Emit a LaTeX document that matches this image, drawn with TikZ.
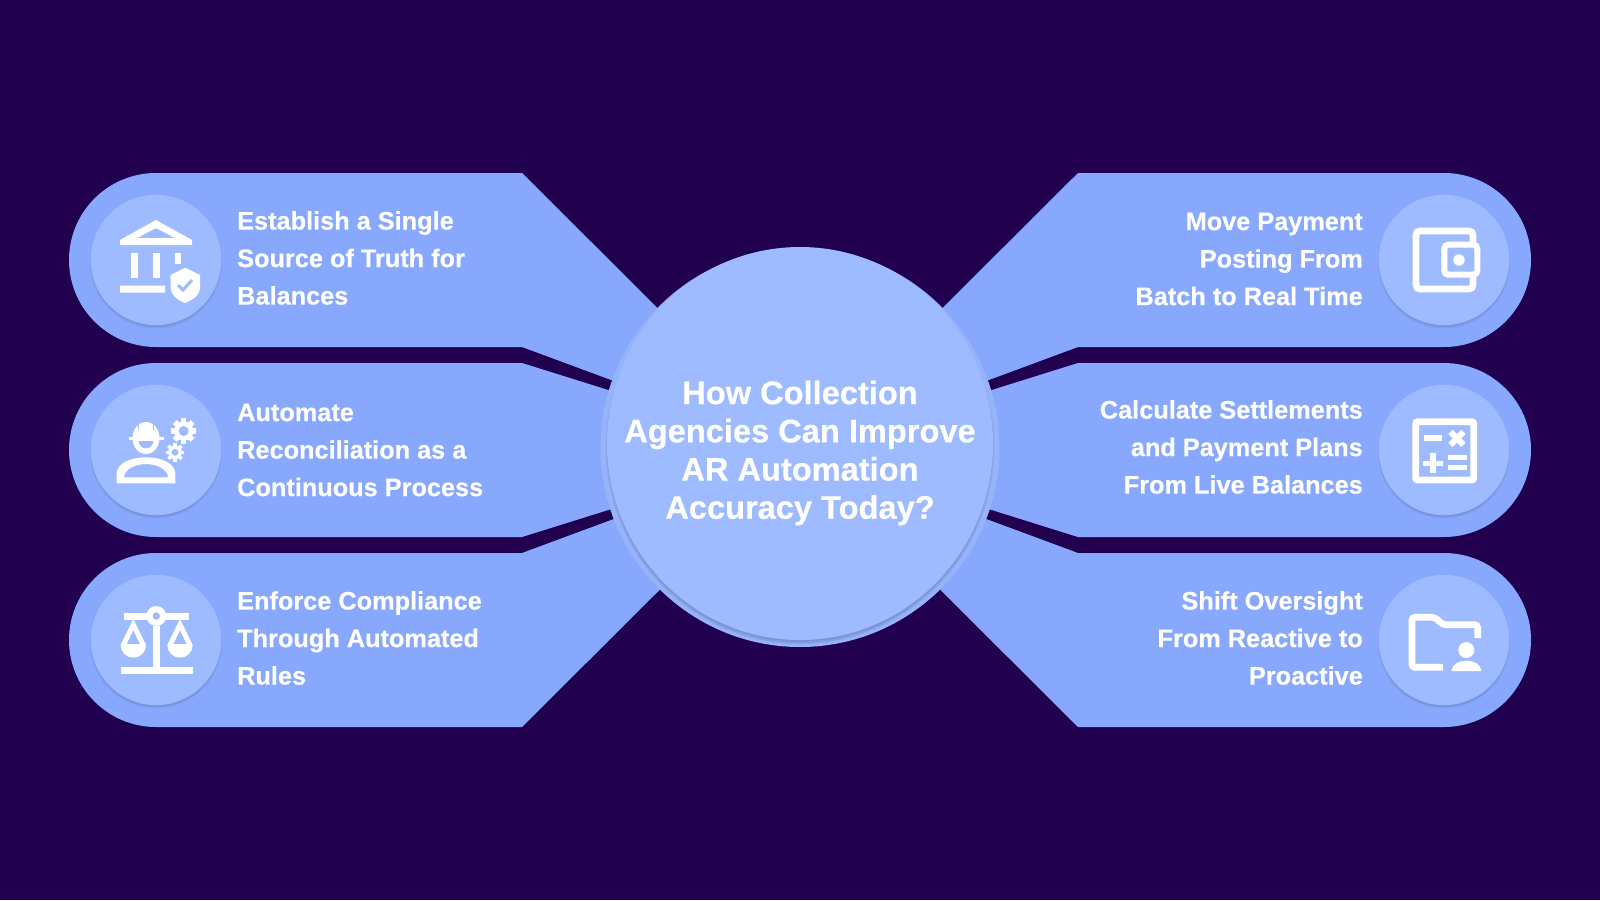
\documentclass[tikz,border=0pt]{standalone}
\usepackage{fontspec}
\setmainfont[BoldFeatures={FakeBold=0.35}]{Liberation Sans}
\usetikzlibrary{calc}

\definecolor{bgcol}{HTML}{20004F}
\definecolor{pillcol}{HTML}{88A8FD}
\definecolor{disccol}{HTML}{9FBBFF}
\definecolor{ringcol}{HTML}{97B3FB}
\definecolor{shadecol}{HTML}{4A5A90}

\tikzset{
  itemleft/.style={anchor=west, align=left, inner sep=0pt, text=white, font=\fontsize{25.3}{37.5}\selectfont\bfseries},
  itemright/.style={anchor=east, align=right, inner sep=0pt, text=white, font=\fontsize{25.3}{37.5}\selectfont\bfseries},
  centerlabel/.style={align=center, inner sep=0pt, text=white, font=\fontsize{32.6}{38.2}\selectfont\bfseries},
  icon/.style={draw=white, line width=6.7pt},
  hole/.style={fill=disccol},
  gear/.pic={
    \fill[white] (0,0) circle (9.5);
    \foreach \a in {0,45,...,315}
      \draw[white, line width=5.5pt] (0,0) -- (\a:12.7);
    \fill[hole] (0,0) circle (5);
  },
  smallgear/.pic={
    \fill[white] (0,0) circle (6.8);
    \foreach \a in {0,45,...,315}
      \draw[white, line width=3.6pt] (0,0) -- (\a:9.2);
    \fill[hole] (0,0) circle (3.4);
  },
  bankicon/.pic={
    % Roof
    \fill[white, even odd rule] (0,-40) -- (-36,-20) -- (-36,-15) -- (36,-15) -- (36,-20) -- cycle
      (0,-32) -- (-19,-22) -- (19,-22) -- cycle;
    % Columns and base
    \fill[white] (-25,-7) rectangle (-18,18);
    \fill[white] (-3.3,-7) rectangle (4,18);
    \fill[white] (18.7,-7) rectangle (25.3,4);
    \fill[white] (-36,25.7) -- (9,25.7) -- (9.3,32.7) -- (-36,32.7) -- cycle;
    % Shield
    \fill[white] (29,7.7) -- (44,15) -- (44,27) .. controls (44,35) and (37,40) .. (29,43)
      .. controls (21,40) and (14.7,35) .. (14.7,27) -- (14.7,15) -- cycle;
    \draw[disccol, line width=3pt] (22,25) -- (27,30) -- (36,20);
  },
  workericon/.pic={
    % Helmet and face
    \fill[white] (-10,-12) ellipse (13.5 and 16);
    \fill[white] (-27,-13.5) rectangle (7.5,-10);
    \fill[hole] (-18,-28) rectangle (-16.8,-20);
    \fill[hole] (-3.2,-28) rectangle (-2,-20);
    \fill[white] (1.7,-10) arc (0:180:11.7) -- cycle;
    \fill[hole] (-2.7,-9) arc (0:180:7.3) -- cycle;
    % Body
    \fill[white, even odd rule] (-39.3,33.3) -- (-39.3,24) .. controls (-39.3,13) and (-25,7.3) .. (-10,7.3)
      .. controls (5,7.3) and (19.3,13) .. (19.3,24) -- (19.3,33.3) -- cycle
      (-32,27.3) -- (12,27.3) .. controls (12,19) and (0,14) .. (-10,14)
      .. controls (-20,14) and (-32,19) .. (-32,27.3) -- cycle;
    \pic at (27.7,-19) {gear};
    \pic at (19,2.3) {smallgear};
  },
  scalesicon/.pic={
    % Beam, pole, base
    \fill[white] (-32,-27.3) rectangle (33,-20.3);
    \fill[white] (0.3,-24) circle (10);
    \fill[hole] (0.3,-24) circle (3.7);
    \fill[white] (-3,-14) rectangle (4,28);
    \fill[white] (-35.3,27) rectangle (36.7,34);
    % Pans
    \foreach \c in {-22.7,24} {
      \fill[white, even odd rule] (\c,-21) -- (\c-12.7,5) arc (180:0:12.7) -- cycle
        (\c,-10) -- (\c-6.6,4) -- (\c+6.6,4) -- cycle;
    }
  },
  walleticon/.pic={
    \draw[icon, rounded corners=4pt] (-28,-29) rectangle (29,29);
    \draw[icon, line width=6pt, hole, rounded corners=4pt] (0.3,-15.3) rectangle (33.3,14.7);
    \fill[white] (15,0) circle (5.7);
  },
  calcicon/.pic={
    \draw[icon, rounded corners=2pt] (-28.3,-28.3) rectangle (29.7,30);
    \fill[white] (-20.3,-14.7) rectangle (-1.7,-8.7);
    \draw[white, line width=6pt] (6.5,-18.2) -- (19.5,-5.2);
    \draw[white, line width=6pt] (19.5,-18.2) -- (6.5,-5.2);
    \draw[white, line width=5.6pt] (-21,13.3) -- (-1,13.3);
    \draw[white, line width=5.6pt] (-11,3.3) -- (-11,23.3);
    \fill[white] (4.3,5.3) rectangle (22.7,10.3);
    \fill[white] (4.3,14.7) rectangle (22.7,19.7);
  },
  foldericon/.pic={
    \draw[icon, rounded corners=3pt] (-1,27.3) -- (-32,27.3) -- (-32,-22.7) -- (-9.3,-22.7) -- (-1,-15.3) -- (33.7,-15.3) -- (33.7,-2);
    \fill[white] (22.3,10) circle (8);
    \fill[white] (7.3,31) .. controls (8,24) and (15,20.7) .. (22.3,20.7)
      .. controls (30,20.7) and (37,24) .. (37.3,31) -- cycle;
  },
}

\begin{document}
\begin{tikzpicture}[x=1pt, y=-1pt]
  \useasboundingbox (0,0) rectangle (1600,900);
  \fill[bgcol] (0,0) rectangle (1600,900);
  \coordinate (ctr) at (800,450);

  % Arms
  \foreach \ya/\yb in {173/347,363/537,553/727} {
    \fill[pillcol] (522,\ya) -- (ctr) -- (522,\yb) -- (156,\yb) arc (90:270:87) -- cycle;
    \fill[pillcol] (1078,\ya) -- (ctr) -- (1078,\yb) -- (1444,\yb) arc (90:-90:87) -- cycle;
  }

  % Icon discs with their shadow
  \foreach \px in {156,1444}
    \foreach \py in {260,450,640} {
      \foreach \r in {63,64,65,66}
        \fill[shadecol, opacity=0.1] (\px,\py+2.5) circle (\r);
      \fill[disccol] (\px,\py) circle (65.2);
    }

  % Icons
  \pic at (156,260) {bankicon};
  \pic at (156,450) {workericon};
  \pic at (156,640) {scalesicon};
  \pic at (1444,260) {walleticon};
  \pic at (1444,450) {calcicon};
  \pic at (1444,640) {foldericon};

  % Center circle
  \fill[ringcol] (800,447.5) circle (199.5);
  \foreach \r in {191,192,193,194}
    \fill[shadecol, opacity=0.1] (800,447) ellipse (\r+0.5 and \r+3.5);
  \fill[disccol] (800,443.5) ellipse (193 and 196.5);

  % Labels
  \node[centerlabel] (title) at (800,453) {How Collection\\Agencies Can Improve\\AR Automation\\Accuracy Today?};

  \node[itemleft] (truth) at (237,258) {Establish a Single\\Source of Truth for\\Balances};
  \node[itemleft] (recon) at (237,450) {Automate\\Reconciliation as a\\Continuous Process};
  \node[itemleft] (rules) at (237,638) {Enforce Compliance\\Through Automated\\Rules};
  \node[itemright] (posting) at (1363,259) {Move Payment\\Posting From\\Batch to Real Time};
  \node[itemright] (settle) at (1363,447) {Calculate Settlements\\and Payment Plans\\From Live Balances};
  \node[itemright] (shift) at (1363,638) {Shift Oversight\\From Reactive to\\Proactive};
\end{tikzpicture}
\end{document}
